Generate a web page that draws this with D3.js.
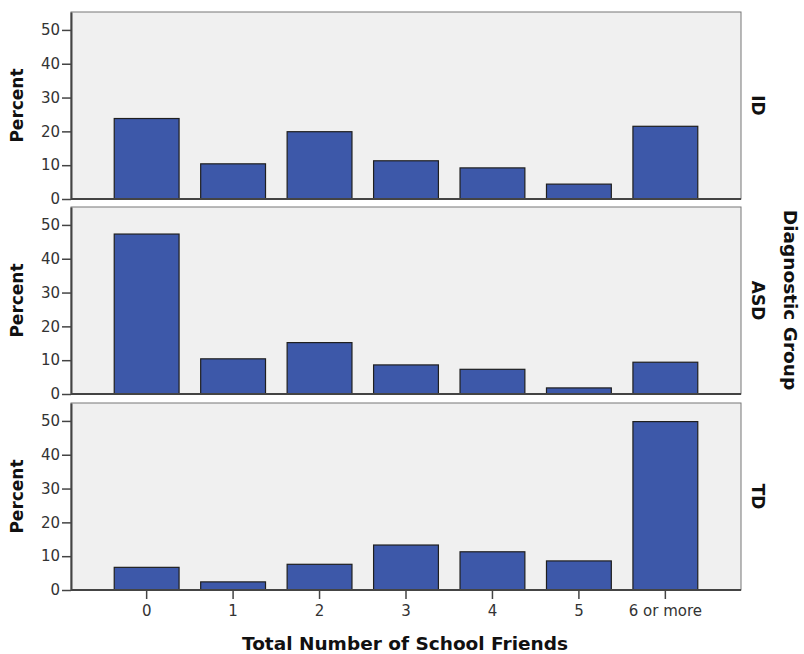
<!DOCTYPE html>
<html>
<head>
<meta charset="utf-8">
<script src="https://cdn.jsdelivr.net/npm/d3@7"></script>
<style>
  body { margin: 0; background: #fff; }
  text { font-family: "DejaVu Sans", sans-serif; }
</style>
</head>
<body>
<div id="chart"></div>
<script>
const categories = ["0", "1", "2", "3", "4", "5", "6 or more"];
const groups = ["ID", "ASD", "TD"];
const idValues = [23.8, 10.4, 19.9, 11.3, 9.2, 4.4, 21.5];
const asdValues = [47.3, 10.4, 15.2, 8.6, 7.3, 1.8, 9.4];
const tdValues = [6.7, 2.4, 7.6, 13.3, 11.3, 8.6, 49.8];
const yTicks = [0, 10, 20, 30, 40, 50];

const series = [idValues, asdValues, tdValues];

const width = 804;
const height = 654;
const left = 71, right = 741;
const panelTops = [12, 207, 403];
const panelH = 187;

const svg = d3.select("#chart")
  .append("svg")
  .attr("width", width)
  .attr("height", height);

const x = d3.scaleBand()
  .domain(categories)
  .range([left, right])
  .paddingInner(0.25)
  .paddingOuter(0.5);

groups.forEach((g, i) => {
  const top = panelTops[i];
  const bottom = top + panelH;
  const y = d3.scaleLinear()
    .domain([0, 55.3])
    .range([bottom, top]);

  svg.append("rect")
    .attr("x", left)
    .attr("y", top)
    .attr("width", right - left)
    .attr("height", panelH)
    .attr("fill", "#f0f0f0")
    .attr("stroke", "#777")
    .attr("stroke-width", 1);

  const data = categories.map((c, k) => ({ cat: c, val: series[i][k] }));

  svg.append("g")
    .selectAll("rect")
    .data(data)
    .join("rect")
    .attr("x", d => x(d.cat))
    .attr("y", d => y(d.val))
    .attr("width", x.bandwidth())
    .attr("height", d => y(0) - y(d.val))
    .attr("fill", "#3d58a9")
    .attr("stroke", "#1f1f1f")
    .attr("stroke-width", 1.2);

  const ax = svg.append("g")
    .attr("transform", `translate(${left},0)`)
    .call(d3.axisLeft(y).tickValues(yTicks).tickSize(9).tickPadding(2).tickSizeOuter(0));
  ax.select(".domain").attr("stroke", "#444").attr("stroke-width", 2);
  ax.selectAll(".tick line").attr("stroke", "#444").attr("stroke-width", 1.5);
  ax.selectAll("text")
    .attr("fill", "#333")
    .style("font-size", "15px")
    .style("font-family", "DejaVu Sans, sans-serif");

  // baseline
  svg.append("line")
    .attr("x1", left).attr("x2", right)
    .attr("y1", bottom).attr("y2", bottom)
    .attr("stroke", "#444").attr("stroke-width", 2);

  svg.append("text")
    .attr("transform", `translate(23,${(top + bottom) / 2}) rotate(-90)`)
    .attr("text-anchor", "middle")
    .style("font-size", "17px")
    .style("font-weight", "bold")
    .attr("fill", "#111")
    .text("Percent");

  svg.append("text")
    .attr("transform", `translate(752,${(top + bottom) / 2}) rotate(90)`)
    .attr("text-anchor", "middle")
    .style("font-size", "17px")
    .style("font-weight", "bold")
    .attr("fill", "#111")
    .text(g);

  if (i === groups.length - 1) {
    const bx = svg.append("g")
      .attr("transform", `translate(0,${bottom})`)
      .call(d3.axisBottom(x).tickSize(9).tickPadding(6).tickSizeOuter(0));
    bx.select(".domain").remove();
    bx.selectAll(".tick line").attr("stroke", "#444").attr("stroke-width", 1.5);
    bx.selectAll("text")
      .attr("fill", "#333")
      .style("font-size", "15px")
      .style("font-family", "DejaVu Sans, sans-serif");
  }
});

svg.append("text")
  .attr("x", 405)
  .attr("y", 650)
  .attr("text-anchor", "middle")
  .style("font-size", "18.5px")
  .style("font-weight", "bold")
  .attr("fill", "#111")
  .text("Total Number of School Friends");

svg.append("text")
  .attr("transform", `translate(784,300) rotate(90)`)
  .attr("text-anchor", "middle")
  .style("font-size", "18.5px")
  .style("font-weight", "bold")
  .attr("fill", "#111")
  .text("Diagnostic Group");
</script>
</body>
</html>
